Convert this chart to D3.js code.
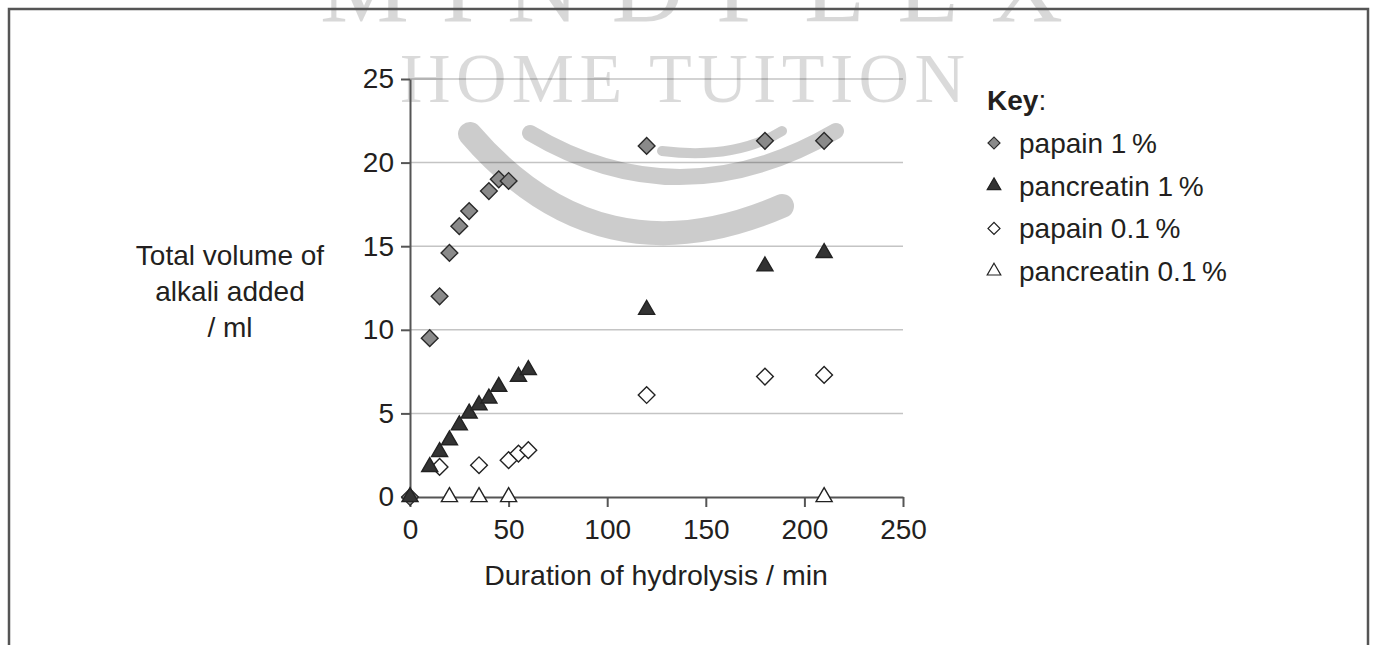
<!DOCTYPE html>
<html>
<head>
<meta charset="utf-8">
<script src="https://cdn.jsdelivr.net/npm/d3@7"></script>
<style>
  body { margin: 0; background: #fff; }
  text { font-family: "Liberation Sans", Arial, sans-serif; fill: #231f20; }
  .grid line { stroke: #c4c4c4; stroke-width: 1.5; }
  .axis path, .axis line { stroke: #555; stroke-width: 2; }
  .axis text { font-size: 28px; }
</style>
</head>
<body>
<div id="chart"></div>
<script>
// data
var papain1X = [0, 10, 15, 20, 25, 30, 40, 45, 50, 120, 180, 210];
var papain1Y = [0, 9.5, 12.0, 14.6, 16.2, 17.1, 18.3, 19.0, 18.9, 21.0, 21.3, 21.3];
var pancreatin1X = [0, 10, 15, 20, 25, 30, 35, 40, 45, 55, 60, 120, 180, 210];
var pancreatin1Y = [0, 1.8, 2.7, 3.4, 4.3, 5.0, 5.5, 5.9, 6.6, 7.2, 7.6, 11.2, 13.8, 14.6];
var papain01X = [15, 35, 50, 55, 60, 120, 180, 210];
var papain01Y = [1.8, 1.9, 2.2, 2.6, 2.8, 6.1, 7.2, 7.3];
var pancreatin01X = [20, 35, 50, 210];
var pancreatin01Y = [0, 0, 0, 0];

var xTicks = [0, 50, 100, 150, 200, 250];
var yTicks = [0, 5, 10, 15, 20, 25];
var seriesNames = ["papain 1\u2009%", "pancreatin 1\u2009%", "papain 0.1\u2009%", "pancreatin 0.1\u2009%"];

//////////////////////////
// setup svg
//////////////////////////
var width = 1374,
    height = 645;

var svg = d3.select("#chart").append("svg")
  .attr("width", width)
  .attr("height", height);

// scales
var x = d3.scaleLinear()
  .domain([0, 250])
  .range([410, 903]);
var y = d3.scaleLinear()
  .domain([0, 25])
  .range([497, 79]);

// gridlines
svg.append("g")
  .attr("class", "grid")
  .selectAll("line")
  .data(yTicks.slice(1))
  .enter().append("line")
    .attr("x1", x(0))
    .attr("x2", x(250))
    .attr("y1", function(d) { return y(d); })
    .attr("y2", function(d) { return y(d); });

//////////////////////////
// watermark
//////////////////////////
var wm = svg.append("g");

wm.append("text")
  .attr("x", 320)
  .attr("y", 21)
  .attr("textLength", 743)
  .attr("lengthAdjust", "spacing")
  .attr("opacity", 0.15)
  .style("font-family", "'Liberation Serif', 'DejaVu Serif', serif")
  .style("font-size", "100px")
  .style("fill", "#000")
  .text("MINDFLEX");

wm.append("text")
  .attr("x", 400)
  .attr("y", 102)
  .attr("textLength", 565)
  .attr("lengthAdjust", "spacing")
  .attr("opacity", 0.14)
  .style("font-family", "'Liberation Serif', 'DejaVu Serif', serif")
  .style("font-size", "70px")
  .style("fill", "#000")
  .text("HOME TUITION");

// swooshes
var arcs = [
  {d: "M470,134 Q600,285 782,206", w: 24},
  {d: "M530,133 Q680,222 836,131", w: 16},
  {d: "M662,151 Q735,160 782,131", w: 10}
];
wm.selectAll("path.swoosh")
  .data(arcs)
  .enter().append("path")
    .attr("class", "swoosh")
    .attr("d", function(d) { return d.d; })
    .attr("fill", "none")
    .attr("stroke", "#000")
    .attr("opacity", 0.2)
    .attr("stroke-width", function(d) { return d.w; })
    .attr("stroke-linecap", "round");

// frame
svg.append("path")
  .attr("d", "M9,645 V9 H1368 V645")
  .attr("fill", "none")
  .attr("stroke", "#555")
  .attr("stroke-width", 2.5);

//////////////////////////
// axes
//////////////////////////
svg.append("g")
  .attr("class", "axis")
  .attr("transform", "translate(" + x(0) + ",0)")
  .call(d3.axisLeft(y).tickValues(yTicks).tickSize(9).tickPadding(7).tickSizeOuter(0));

svg.append("g")
  .attr("class", "axis")
  .attr("transform", "translate(0," + y(0) + ")")
  .call(d3.axisBottom(x).tickValues(xTicks).tickSize(10).tickPadding(12).tickSizeOuter(0));

// axis titles
svg.append("text")
  .attr("x", 656)
  .attr("y", 585)
  .attr("text-anchor", "middle")
  .style("font-size", "28.5px")
  .text("Duration of hydrolysis / min");

var yTitle = ["Total volume of", "alkali added", "/ ml"];
svg.selectAll("text.ytitle")
  .data(yTitle)
  .enter().append("text")
    .attr("class", "ytitle")
    .attr("x", 230)
    .attr("y", function(d, i) { return 265 + i * 36; })
    .attr("text-anchor", "middle")
    .style("font-size", "28px")
    .text(function(d) { return d; });

//////////////////////////
// markers
//////////////////////////
var diamond = d3.symbol().type(d3.symbolSquare).size(140),
    triangle = d3.symbol().type(d3.symbolTriangle).size(112);

var styles = [
  {shape: diamond, rot: 45, fill: "#8a8a8a", stroke: "#2a2a2a"},
  {shape: triangle, rot: 0, fill: "#333333", stroke: "#222"},
  {shape: diamond, rot: 45, fill: "#ffffff", stroke: "#222"},
  {shape: triangle, rot: 0, fill: "#ffffff", stroke: "#222"}
];

function pairs(xs, ys) {
  return xs.map(function(v, i) { return [v, ys[i]]; });
}

var series = [
  pairs(papain1X, papain1Y),
  pairs(pancreatin1X, pancreatin1Y),
  pairs(papain01X, papain01Y),
  pairs(pancreatin01X, pancreatin01Y)
];

// draw order: open ones first so the filled points at the origin stay on top
[3, 2, 0, 1].forEach(function(k) {
  var s = styles[k];
  svg.append("g")
    .selectAll("path")
    .data(series[k])
    .enter().append("path")
      .attr("d", s.shape)
      .attr("transform", function(d) {
        return "translate(" + x(d[0]) + "," + y(d[1]) + ") rotate(" + s.rot + ")";
      })
      .attr("fill", s.fill)
      .attr("stroke", s.stroke)
      .attr("stroke-width", 1.4);
});

//////////////////////////
// legend
//////////////////////////
var key = svg.append("text")
  .attr("x", 987)
  .attr("y", 110)
  .style("font-size", "28px");
key.append("tspan").style("font-weight", "bold").text("Key");
key.append("tspan").text(":");

var legendDiamond = d3.symbol().type(d3.symbolSquare).size(72),
    legendTriangle = d3.symbol().type(d3.symbolTriangle).size(80);

var rows = svg.selectAll("g.legend")
  .data(seriesNames)
  .enter().append("g")
    .attr("class", "legend")
    .attr("transform", function(d, i) { return "translate(0," + (143 + i * 42.7) + ")"; });

rows.append("path")
  .attr("d", function(d, i) { return i % 2 == 0 ? legendDiamond() : legendTriangle(); })
  .attr("transform", function(d, i) { return "translate(994,0) rotate(" + styles[i].rot + ")"; })
  .attr("fill", function(d, i) { return styles[i].fill; })
  .attr("stroke", function(d, i) { return styles[i].stroke; })
  .attr("stroke-width", 1.2);

rows.append("text")
  .attr("x", 1019)
  .attr("y", 10)
  .style("font-size", "28px")
  .text(function(d) { return d; });
</script>
</body>
</html>
